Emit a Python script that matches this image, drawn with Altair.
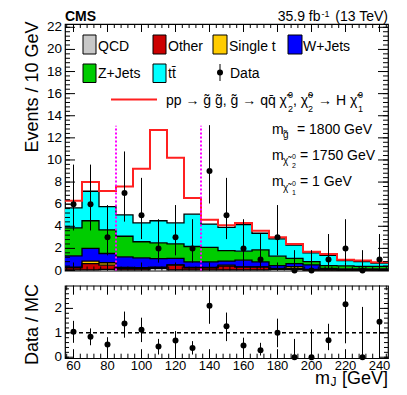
import altair as alt
import pandas as pd

FONT = "Liberation Sans"

# ---------------- data ----------------
centers = [60, 70, 80, 90, 100, 110, 120, 130, 140, 150, 160, 170, 180, 190, 200, 210, 220, 230, 240]
edges = [55, 65, 75, 85, 95, 105, 115, 125, 135, 145, 155, 165, 175, 185, 195, 205, 215, 225, 235, 245]

qcd      = [0.05, 0.05, 0.10, 0.05, 0.05, 0.20, 0.05, 0.05, 0.05, 0.05, 0.05, 0.05, 0.10, 0.10, 0.03, 0.03, 0.03, 0.03, 0.03]
other    = [0.20, 0.58, 0.38, 0.15, 0.15, 0.05, 0.43, 0.20, 0.20, 0.35, 0.25, 0.25, 0.05, 0.10, 0.05, 0.05, 0.03, 0.03, 0.03]
single_t = [0.05, 0.22, 0.22, 0.07, 0.05, 0.05, 0.02, 0.02, 0.02, 0.08, 0.02, 0.02, 0.05, 0.15, 0.02, 0.02, 0.02, 0.02, 0.02]
wjets    = [1.03, 1.15, 0.84, 0.97, 0.90, 0.78, 0.60, 0.51, 0.51, 0.37, 0.61, 0.46, 0.25, 0.28, 0.40, 0.10, 0.07, 0.07, 0.07]
zjets    = [2.52, 2.50, 2.13, 1.86, 1.45, 1.42, 1.30, 1.39, 1.32, 0.95, 0.82, 1.09, 0.85, 0.47, 0.30, 0.25, 0.27, 0.23, 0.23]
ttbar    = [1.81, 2.67, 2.11, 1.93, 1.70, 2.00, 1.90, 2.93, 2.10, 2.10, 2.40, 1.50, 1.56, 1.20, 0.80, 0.91, 0.48, 0.43, 0.28]

# stack + signal (red line)
signal_total = [6.3, 8.0, 7.2, 7.6, 9.2, 12.7, 10.2, 6.55, 4.6, 4.1, 4.3, 3.6, 3.0, 2.4, 1.7, 1.5, 0.97, 0.9, 0.75]

data_counts = [6, 6, 3, 7, 5, 2, 3, 2, 9, 5, 2, 1, 3, 0, 0, 1, 2, 0, 1]
data_lo = [3.62, 3.62, 1.37, 4.42, 2.84, 0.71, 1.37, 0.71, 6.06, 2.84, 0.71, 0.17, 1.37, 0, 0, 0.17, 0.71, 0, 0.17]
data_hi = [9.58, 9.58, 5.92, 10.77, 8.38, 4.64, 5.92, 4.64, 13.15, 8.38, 4.64, 3.30, 5.92, 1.84, 1.84, 3.30, 4.64, 1.84, 3.30]

ratio    = [1.04, 0.84, 0.52, 1.38, 1.13, 0.44, 0.69, 0.38, 2.11, 1.27, 0.48, 0.29, 1.00, 0, 0, 0.70, 2.17, 0, 1.45]
ratio_lo = [0.59, 0.49, 0.18, 0.80, 0.62, 0.11, 0.28, 0.11, 1.37, 0.66, 0.08, 0.07, 0.41, 0, 0, 0.29, 0.57, 0, 0]
ratio_hi = [1.49, 1.18, 0.82, 1.87, 1.62, 0.75, 1.07, 0.66, 2.88, 1.83, 0.80, 0.59, 1.58, 0.75, 1.14, 1.37, 3.00, 2.06, 3.00]

window_edges = [85, 135]
window_top = 13.1

x_major = [60, 80, 100, 120, 140, 160, 180, 200, 220, 240]
x_minor = [56 + 4 * i for i in range(48)]
top_y_major = [0, 2, 4, 6, 8, 10, 12, 14, 16, 18, 20, 22]
top_y_minor = [round(0.4 * i, 2) for i in range(56)]
rat_y_major = [0, 1, 2]
rat_y_minor = [round(0.2 * i, 2) for i in range(15)]

# ---------------- geometry ----------------
W = 323
H_TOP = 246.5
H_RAT = 72.5

xs = alt.Scale(domain=[55, 245], nice=False, zero=False)
ys_top = alt.Scale(domain=[0, 22.3], nice=False, zero=False)
ys_rat = alt.Scale(domain=[-0.04, 2.93], nice=False, zero=False)

one = pd.DataFrame({"a": [0]})


def X(field="x"):
    return alt.X(f"{field}:Q", scale=xs, axis=None)


def txt(s, x, y, size=14, align="left", weight="normal", angle=0):
    return alt.Chart(pd.DataFrame({"t": [s]})).mark_text(
        align=align, baseline="alphabetic", fontSize=size, font=FONT,
        fontWeight=weight, angle=angle, color="black"
    ).encode(x=alt.value(x), y=alt.value(y), text="t:N")


def box(x1, x2, y1, y2, col):
    return alt.Chart(one).mark_rect(fill=col, stroke="black", strokeWidth=1).encode(
        x=alt.value(x1), x2=alt.value(x2), y=alt.value(y1), y2=alt.value(y2))


def ticks(vals, ys, H, yL, yR, xB, xT, axis_y=True):
    out = []
    df = pd.DataFrame({"v": vals})
    if axis_y:
        out.append(alt.Chart(df).mark_rule(color="black", strokeWidth=1).encode(
            y=alt.Y("v:Q", scale=ys, axis=None), x=alt.value(0), x2=alt.value(yL)))
        out.append(alt.Chart(df).mark_rule(color="black", strokeWidth=1).encode(
            y=alt.Y("v:Q", scale=ys, axis=None), x=alt.value(W), x2=alt.value(W - yR)))
    else:
        out.append(alt.Chart(df).mark_rule(color="black", strokeWidth=1).encode(
            x=alt.X("v:Q", scale=xs, axis=None), y=alt.value(H), y2=alt.value(H - xB)))
        out.append(alt.Chart(df).mark_rule(color="black", strokeWidth=1).encode(
            x=alt.X("v:Q", scale=xs, axis=None), y=alt.value(0), y2=alt.value(xT)))
    return out


def ylabels(vals, ys):
    return alt.Chart(pd.DataFrame({"v": vals})).mark_text(
        align="right", baseline="middle", fontSize=13.5, font=FONT, color="black").encode(
        y=alt.Y("v:Q", scale=ys, axis=None), x=alt.value(-3), text=alt.Text("v:Q", format="d"))


def step_df(top, bot):
    return pd.DataFrame({"x": edges, "top": list(top) + [top[-1]], "bot": list(bot) + [bot[-1]]})


# ---------------- top panel ----------------
comps = [
    (qcd, "#c8c8c8"), (other, "#cc0000"), (single_t, "#ffcc00"),
    (wjets, "#0000ff"), (zjets, "#00cc00"), (ttbar, "#00ffff"),
]
areas, outlines = [], []
cum = [0.0] * len(centers)
for vals, col in comps:
    new = [c + v for c, v in zip(cum, vals)]
    df = step_df(new, cum)
    areas.append(alt.Chart(df).mark_area(interpolate="step-after", color=col, opacity=1).encode(
        x=X(), y=alt.Y("top:Q", scale=ys_top, axis=None), y2="bot:Q"))
    outlines.append(alt.Chart(df).mark_line(interpolate="step-after", color="black", strokeWidth=1.3).encode(
        x=X(), y=alt.Y("top:Q", scale=ys_top, axis=None)))
    cum = new

sig = alt.Chart(step_df(signal_total, signal_total)).mark_line(
    interpolate="step-after", color="#ff2020", strokeWidth=2).encode(
    x=X(), y=alt.Y("top:Q", scale=ys_top, axis=None))

win = alt.Chart(pd.DataFrame({"x": window_edges, "lo": [0, 0], "hi": [window_top] * 2})).mark_rule(
    color="#ff00ff", strokeWidth=2, strokeDash=[2, 2]).encode(
    x=X(), y=alt.Y("lo:Q", scale=ys_top, axis=None), y2="hi:Q")

ddf = pd.DataFrame({"x": centers, "y": data_counts, "lo": data_lo, "hi": data_hi})
derr = alt.Chart(ddf).mark_rule(color="black", strokeWidth=1).encode(
    x=X(), y=alt.Y("lo:Q", scale=ys_top, axis=None), y2="hi:Q")
dpts = alt.Chart(ddf).mark_point(filled=True, size=36, color="black", opacity=1).encode(
    x=X(), y=alt.Y("y:Q", scale=ys_top, axis=None))

top_ticks = (ticks(top_y_major, ys_top, H_TOP, 10, 10, 0, 0)
             + ticks(top_y_minor, ys_top, H_TOP, 5, 5, 0, 0)
             + ticks(x_major, ys_top, H_TOP, 0, 0, 8, 8, axis_y=False)
             + ticks(x_minor, ys_top, H_TOP, 0, 0, 4, 4, axis_y=False))

chi = "\u03c7\u0303"
legend = [
    box(18, 31, 11, 30, "#c8c8c8"), txt("QCD", 33, 26.5),
    box(88, 101, 11, 30, "#cc0000"), txt("Other", 103, 26.5),
    box(148, 162, 11, 30, "#ffcc00"), txt("Single t", 164, 26.5),
    box(223, 237, 11, 30, "#0000ff"), txt("W+Jets", 238, 26.5),
    box(18, 31, 40, 58.5, "#00cc00"), txt("Z+Jets", 33, 53.8),
    box(88, 101, 40, 58.5, "#00ffff"), txt("tt\u0304", 103, 53.8),
    alt.Chart(one).mark_rule(color="black", strokeWidth=1).encode(
        x=alt.value(155), y=alt.value(40), y2=alt.value(57)),
    alt.Chart(one).mark_point(filled=True, size=36, color="black", opacity=1).encode(
        x=alt.value(155), y=alt.value(48.5)),
    txt("Data", 165, 53.8),
    alt.Chart(one).mark_rule(color="#ff2020", strokeWidth=2).encode(
        x=alt.value(46), x2=alt.value(92), y=alt.value(75.5)),
    txt("pp \u2192 g\u0303 g\u0303, g\u0303 \u2192 qq\u0304 " + chi, 101, 80.5),
    txt("0", 223, 73.5, size=9), txt("2", 223, 87.5, size=9),
    txt(", " + chi, 228, 80.5),
    txt("0", 243, 73.5, size=9), txt("2", 243, 87.5, size=9),
    txt("\u2192 H " + chi, 253, 80.5),
    txt("0", 293, 73.5, size=9), txt("1", 293, 87.5, size=9),
    txt("m", 207, 109.8), txt("g\u0303", 218, 113.5, size=10), txt("= 1800 GeV", 232, 109.8),
    txt("m", 207, 135.5), txt(chi, 218, 139.5, size=10), txt("0", 227, 134.5, size=7),
    txt("2", 227, 143.5, size=7), txt("= 1750 GeV", 235, 135.5),
    txt("m", 207, 162.2), txt(chi, 218, 166.5, size=10), txt("0", 227, 161.5, size=7),
    txt("1", 227, 170.5, size=7), txt("= 1 GeV", 235, 162.2),
]

header = [
    txt("CMS", 0, -3.5, size=14, weight="bold"),
    txt("(13 TeV)", 323, -3.5, size=14, align="right"),
    txt("-1", 264.5, -7.5, size=9, align="right"),
    txt("35.9 fb", 255.5, -3.5, size=14, align="right"),
    txt("Events / 10 GeV", -27, -2.5, size=18, align="right", angle=270),
]

top = alt.layer(*areas, *outlines, sig, win, derr, dpts, *top_ticks,
                ylabels(top_y_major, ys_top), *legend, *header).properties(
    width=W, height=H_TOP)

# ---------------- ratio panel ----------------
rdf = pd.DataFrame({"x": centers, "y": ratio, "lo": ratio_lo, "hi": ratio_hi})
unity = alt.Chart(pd.DataFrame({"x": [55], "x2": [245], "y": [1]})).mark_rule(
    color="black", strokeWidth=1.5, strokeDash=[4, 3]).encode(
    x=X(), x2="x2:Q", y=alt.Y("y:Q", scale=ys_rat, axis=None))
rerr = alt.Chart(rdf).mark_rule(color="black", strokeWidth=1, clip=True).encode(
    x=X(), y=alt.Y("lo:Q", scale=ys_rat, axis=None), y2="hi:Q")
rpts = alt.Chart(rdf).mark_point(filled=True, size=36, color="black", opacity=1).encode(
    x=X(), y=alt.Y("y:Q", scale=ys_rat, axis=None))
rat_ticks = (ticks(rat_y_major, ys_rat, H_RAT, 8, 8, 0, 0)
             + ticks(rat_y_minor, ys_rat, H_RAT, 4, 4, 0, 0)
             + ticks(x_major, ys_rat, H_RAT, 0, 0, 9, 9, axis_y=False)
             + ticks(x_minor, ys_rat, H_RAT, 0, 0, 4.5, 4.5, axis_y=False))
xlabels = alt.Chart(pd.DataFrame({"v": x_major})).mark_text(
    align="center", baseline="top", fontSize=13, font=FONT, color="black").encode(
    x=alt.X("v:Q", scale=xs, axis=None), y=alt.value(H_RAT + 1.5), text=alt.Text("v:Q", format="d"))
rat_text = [
    txt("Data / MC", -27, -1.7, size=18, align="right", angle=270),
    txt("m", 250, 97.8, size=18),
    txt("J", 265.5, 99.8, size=12),
    txt("[GeV]", 323, 97.8, size=18, align="right"),
]
bottom = alt.layer(unity, rerr, rpts, *rat_ticks, ylabels(rat_y_major, ys_rat), xlabels,
                   *rat_text).properties(width=W, height=H_RAT)

chart = alt.vconcat(top, bottom, spacing=14.7, bounds="flush").properties(
    padding={"left": 15, "right": 5, "top": 0, "bottom": 0},
    background="white",
).configure_view(stroke="black", strokeWidth=1.2)

chart.save("out.html", embed_options={"renderer": "svg", "actions": False})
